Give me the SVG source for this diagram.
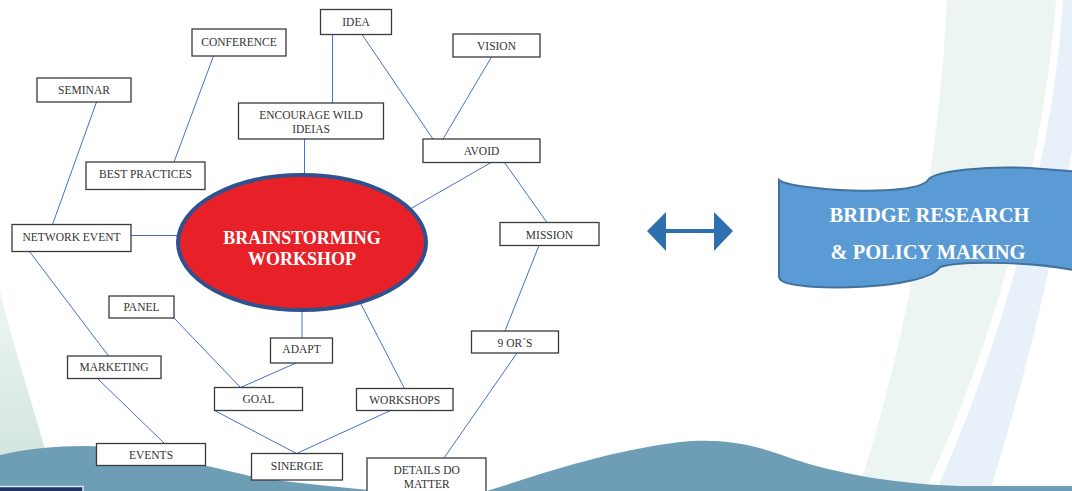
<svg xmlns="http://www.w3.org/2000/svg" width="1072" height="491" viewBox="0 0 1072 491">
  <defs>
    <linearGradient id="mintFade" x1="0" y1="290" x2="0" y2="460" gradientUnits="userSpaceOnUse">
      <stop offset="0" stop-color="#eef6f3"/>
      <stop offset="1" stop-color="#d3e5de"/>
    </linearGradient>
    <style>
      .box { fill: #ffffff; stroke: #3a3a3a; stroke-width: 1.3; }
      .lbl { font-family: "Liberation Serif", "Times New Roman", serif; font-size: 11.5px; fill: #333333; text-anchor: middle; }
      .link { stroke: #4472c4; stroke-width: 1; fill: none; }
      .hub { font-family: "Liberation Serif", "Times New Roman", serif; font-size: 18px; font-weight: bold; fill: #ffffff; text-anchor: middle; }
      .ban { font-family: "Liberation Serif", "Times New Roman", serif; font-size: 20.5px; font-weight: bold; fill: #ffffff; text-anchor: middle; }
    </style>
  </defs>

  <!-- page background -->
  <rect x="0" y="0" width="1072" height="491" fill="#ffffff"/>
  <path d="M947,0 L1056,0 C1045,150 1000,330 925,491 L858,491 C910,330 940,150 947,0 Z" fill="#ecf5f2"/>
  <path d="M1063,0 L1080,0 L1080,100 C1065,200 1040,330 990,491 L936,491 C1008,330 1053,150 1063,0 Z" fill="#e8f1f9"/>
  <path d="M0,290 C6,320 25,380 46,452 L0,462 Z" fill="url(#mintFade)"/>
  <path d="M0,455 C25,449 55,446 85,446 C130,447 190,462 250,476 C300,484 350,488 400,493 L0,493 Z" fill="#6d9eb5"/>
  <path d="M480,493 C530,478 600,452 680,442 C720,438 750,443 790,458 C840,475 900,484 960,486 L1072,486 L1072,493 Z" fill="#6d9eb5"/>
  <rect x="-2" y="486.5" width="85" height="10" fill="#1d3566" stroke="#dfe6ee" stroke-width="1.5"/>

  <!-- connectors -->
  <g id="connectors">
    <line class="link" x1="332.5" y1="34.5" x2="332.5" y2="103"/>
    <line class="link" x1="304.5" y1="139" x2="304.5" y2="175"/>
    <line class="link" x1="213.5" y1="56" x2="174" y2="162"/>
    <line class="link" x1="96.5" y1="102" x2="52.5" y2="224.5"/>
    <line class="link" x1="131" y1="235.5" x2="178" y2="235.5"/>
    <line class="link" x1="362" y1="34.5" x2="433" y2="139"/>
    <line class="link" x1="491.5" y1="57" x2="443" y2="139"/>
    <line class="link" x1="491" y1="162.5" x2="411" y2="208.5"/>
    <line class="link" x1="504.5" y1="162.5" x2="547" y2="222.5"/>
    <line class="link" x1="539" y1="245.5" x2="505" y2="331"/>
    <line class="link" x1="517" y1="353" x2="444" y2="458"/>
    <line class="link" x1="29.5" y1="251.5" x2="108.5" y2="356"/>
    <line class="link" x1="97.5" y1="378.5" x2="164.5" y2="443.5"/>
    <line class="link" x1="174" y1="318" x2="240.5" y2="387.5"/>
    <line class="link" x1="296" y1="363" x2="240.5" y2="387.5"/>
    <line class="link" x1="302" y1="310" x2="302" y2="338"/>
    <line class="link" x1="214.5" y1="410.5" x2="296.5" y2="453.5"/>
    <line class="link" x1="390.5" y1="410.5" x2="296.5" y2="453.5"/>
    <line class="link" x1="361" y1="304" x2="404.5" y2="388.5"/>
  </g>

  <!-- central hub -->
  <g id="brainstorming-workshop">
    <ellipse cx="302" cy="242.5" rx="124" ry="67.5" fill="#e82028" stroke="#2f528f" stroke-width="4"/>
    <text class="hub" x="302" y="244">BRAINSTORMING</text>
    <text class="hub" x="302" y="265">WORKSHOP</text>
  </g>

  <g id="idea">
    <rect class="box" x="320.5" y="9.5" width="71" height="25"/>
    <text class="lbl" x="356" y="26">IDEA</text>
  </g>
  <g id="conference">
    <rect class="box" x="192" y="29" width="94" height="27"/>
    <text class="lbl" x="239" y="46">CONFERENCE</text>
  </g>
  <g id="vision">
    <rect class="box" x="453" y="34" width="87" height="23"/>
    <text class="lbl" x="496.5" y="50">VISION</text>
  </g>
  <g id="seminar">
    <rect class="box" x="37" y="78" width="94" height="24"/>
    <text class="lbl" x="84" y="94">SEMINAR</text>
  </g>
  <g id="encourage-wild-ideias">
    <rect class="box" x="238.5" y="103" width="145" height="36"/>
    <text class="lbl" x="311" y="119">ENCOURAGE WILD</text>
    <text class="lbl" x="311" y="133">IDEIAS</text>
  </g>
  <g id="best-practices">
    <rect class="box" x="86" y="162" width="119" height="27.5"/>
    <text class="lbl" x="145.5" y="177.5">BEST PRACTICES</text>
  </g>
  <g id="avoid">
    <rect class="box" x="423" y="139" width="117" height="23.5"/>
    <text class="lbl" x="481.5" y="154.5">AVOID</text>
  </g>
  <g id="network-event">
    <rect class="box" x="12" y="224.5" width="119" height="27"/>
    <text class="lbl" x="71.5" y="240.5">NETWORK EVENT</text>
  </g>
  <g id="mission">
    <rect class="box" x="500" y="222.5" width="99" height="23"/>
    <text class="lbl" x="549.5" y="238.5">MISSION</text>
  </g>
  <g id="panel">
    <rect class="box" x="109" y="296" width="65" height="22"/>
    <text class="lbl" x="141.5" y="311">PANEL</text>
  </g>
  <g id="adapt">
    <rect class="box" x="270.5" y="338" width="62" height="25"/>
    <text class="lbl" x="301.5" y="353">ADAPT</text>
  </g>
  <g id="marketing">
    <rect class="box" x="67.5" y="356" width="93.5" height="22.5"/>
    <text class="lbl" x="114" y="371">MARKETING</text>
  </g>
  <g id="goal">
    <rect class="box" x="214.5" y="387.5" width="88" height="23"/>
    <text class="lbl" x="258.5" y="403">GOAL</text>
  </g>
  <g id="workshops">
    <rect class="box" x="356.5" y="388.5" width="96.5" height="22"/>
    <text class="lbl" x="404.7" y="404">WORKSHOPS</text>
  </g>
  <g id="nine-ors">
    <rect class="box" x="471.5" y="331" width="87" height="22"/>
    <text class="lbl" x="515" y="347">9 OR´S</text>
  </g>
  <g id="events">
    <rect class="box" x="96.5" y="443.5" width="109" height="22"/>
    <text class="lbl" x="151" y="459">EVENTS</text>
  </g>
  <g id="sinergie">
    <rect class="box" x="251.5" y="453.5" width="91" height="26.5"/>
    <text class="lbl" x="297" y="469.5">SINERGIE</text>
  </g>
  <g id="details-do-matter">
    <rect class="box" x="367" y="458" width="119" height="40"/>
    <text class="lbl" x="426.7" y="473.5">DETAILS DO</text>
    <text class="lbl" x="426.7" y="487.5">MATTER</text>
  </g>

  <!-- two-way arrow -->
  <g id="two-way-arrow">
    <polygon points="647,231 666,212 666,229 714,229 714,212 733,231 714,251 714,233 666,233 666,251" fill="#2e6fad"/>
  </g>

  <!-- wave banner -->
  <g id="bridge-research-policy-making">
    <path d="M779,180 C790,190 915,198 928,180 C935,170 990,166 1030,168 L1082,172 L1082,272 C1040,262 965,260 940,267 C925,290 800,292 782,281 Q779,279 779,276 Z" fill="#5b9bd5" stroke="#41719c" stroke-width="2"/>
    <text class="ban" x="929.5" y="222">BRIDGE RESEARCH</text>
    <text class="ban" x="928" y="259">&amp; POLICY MAKING</text>
  </g>
</svg>
